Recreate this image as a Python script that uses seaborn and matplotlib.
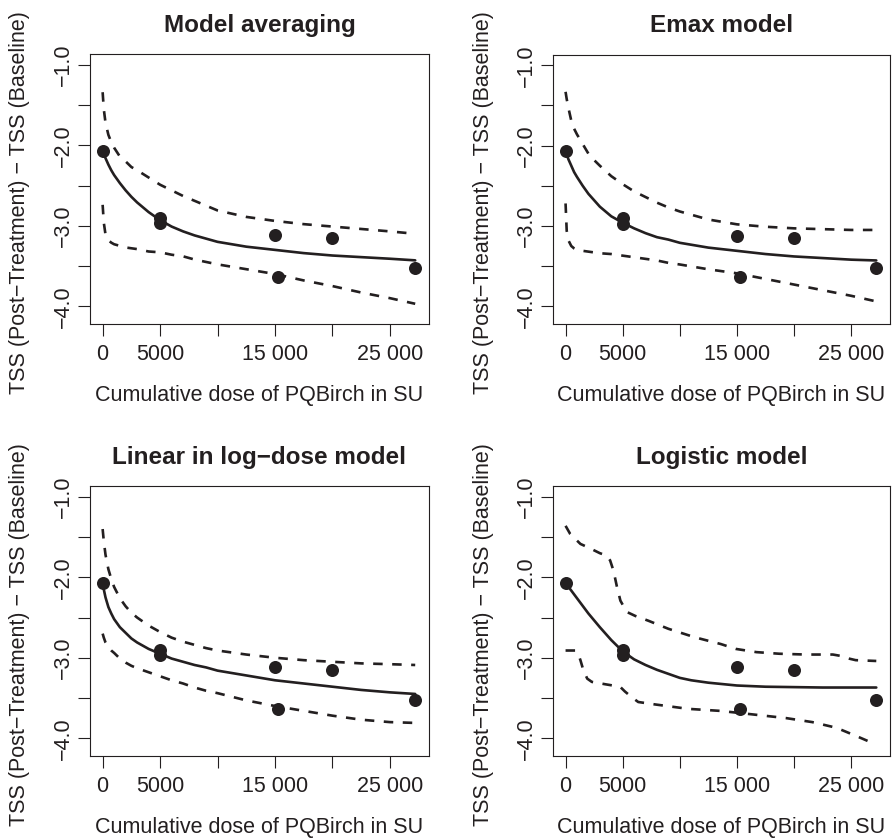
import matplotlib
matplotlib.use("Agg")
import matplotlib.pyplot as plt
import seaborn as sns

# ---------------- data ----------------
DOSE_OBS = [0, 5000, 5000, 15000, 15300, 20000, 27200]
RESP_OBS = [-2.07, -2.90, -2.97, -3.12, -3.64, -3.15, -3.52]

GRID = [0, 100, 250, 500, 750, 1000, 1500, 2000, 2500, 3000, 4000, 5000, 6000,
        7000, 8000, 9000, 10000, 12500, 15000, 17500, 20000, 22500, 25000, 27200]

# Model averaging
MA_FIT = [-2.07, -2.11, -2.16, -2.24, -2.31, -2.37, -2.47, -2.56, -2.64, -2.71, -2.83, -2.93,
          -3.01, -3.07, -3.12, -3.16, -3.20, -3.26, -3.30, -3.34, -3.37, -3.39, -3.41, -3.43]
MA_UPPER = [-1.34, -1.55, -1.72, -1.87, -1.96, -2.03, -2.14, -2.20, -2.27, -2.31, -2.40, -2.49,
            -2.56, -2.63, -2.69, -2.75, -2.81, -2.89, -2.94, -2.98, -3.01, -3.04, -3.07, -3.10]
MA_LOWER = [-2.74, -2.96, -3.11, -3.18, -3.21, -3.23, -3.25, -3.27, -3.28, -3.29, -3.32, -3.33,
            -3.36, -3.38, -3.42, -3.45, -3.48, -3.54, -3.60, -3.68, -3.75, -3.83, -3.90, -3.97]

# Emax model
EMAX_FIT = [-2.07, -2.11, -2.17, -2.25, -2.33, -2.39, -2.50, -2.60, -2.68, -2.76, -2.88, -2.96,
            -3.03, -3.09, -3.14, -3.17, -3.21, -3.27, -3.31, -3.35, -3.38, -3.40, -3.42, -3.43]
EMAX_UPPER = [-1.33, -1.42, -1.53, -1.69, -1.79, -1.86, -1.98, -2.10, -2.18, -2.25, -2.38, -2.48,
              -2.57, -2.64, -2.71, -2.77, -2.82, -2.92, -2.98, -3.01, -3.03, -3.04, -3.05, -3.05]
EMAX_LOWER = [-2.72, -3.06, -3.18, -3.25, -3.28, -3.30, -3.31, -3.32, -3.33, -3.34, -3.35, -3.37,
              -3.39, -3.41, -3.43, -3.46, -3.48, -3.54, -3.59, -3.66, -3.73, -3.80, -3.87, -3.94]

# Linear in log-dose model
LOG_FIT = [-2.06, -2.15, -2.25, -2.37, -2.45, -2.52, -2.62, -2.69, -2.76, -2.81, -2.89, -2.95,
           -3.01, -3.05, -3.09, -3.12, -3.16, -3.22, -3.28, -3.32, -3.36, -3.40, -3.43, -3.45]
LOG_UPPER = [-1.40, -1.55, -1.72, -1.90, -2.02, -2.12, -2.26, -2.36, -2.44, -2.50, -2.60, -2.68,
             -2.75, -2.80, -2.84, -2.88, -2.91, -2.96, -3.00, -3.03, -3.05, -3.07, -3.08, -3.09]
LOG_LOWER = [-2.70, -2.75, -2.81, -2.87, -2.91, -2.94, -3.01, -3.06, -3.10, -3.13, -3.18, -3.23,
             -3.28, -3.32, -3.37, -3.41, -3.44, -3.53, -3.60, -3.66, -3.72, -3.77, -3.80, -3.81]

# Logistic model
LGT_FIT_DOSE = [0, 1000, 2000, 3000, 4000, 5000, 6000, 7000, 8000, 9000, 10000, 11000,
                12500, 15000, 17500, 20000, 22500, 25000, 27200]
LGT_FIT = [-2.07, -2.26, -2.45, -2.62, -2.78, -2.92, -3.02, -3.09, -3.15, -3.20, -3.25, -3.28,
           -3.31, -3.345, -3.36, -3.365, -3.37, -3.37, -3.37]
LGT_UPPER_DOSE = [0, 400, 1300, 2000, 3000, 3600, 3900, 4200, 4500, 4800, 5350, 6100, 7250,
                  9000, 11300, 13600, 14900, 16700, 18700, 21000, 23400, 24000, 24800, 25400, 27200]
LGT_UPPER = [-1.36, -1.46, -1.585, -1.63, -1.70, -1.73, -1.79, -1.92, -2.12, -2.29, -2.43, -2.48,
             -2.54, -2.64, -2.745, -2.83, -2.89, -2.93, -2.95, -2.96, -2.96, -2.975, -3.01, -3.03, -3.04]
LGT_LOWER_DOSE = [0, 850, 1100, 1300, 1570, 1900, 2300, 3500, 4770, 5200, 5790, 6360, 7820,
                  10720, 13500, 16100, 19300, 21600, 23700, 25400, 27200]
LGT_LOWER = [-2.91, -2.91, -2.95, -3.03, -3.16, -3.26, -3.30, -3.33, -3.36, -3.42, -3.49, -3.55,
             -3.58, -3.635, -3.66, -3.70, -3.75, -3.80, -3.87, -3.97, -4.08]

TITLES = ["Model averaging", "Emax model", "Linear in log\u2212dose model", "Logistic model"]
XLABEL = "Cumulative dose of PQBirch in SU"
YLABEL = "TSS (Post\u2212Treatment) \u2212 TSS (Baseline)"
XTICKS = [0, 5000, 10000, 15000, 20000, 25000]
XTICKLABELS = ["0", "5000", "", "15 000", "", "25 000"]
YTICKS = [-1.0, -1.5, -2.0, -2.5, -3.0, -3.5, -4.0]
YTICKLABELS = ["\u22121.0", "", "\u22122.0", "", "\u22123.0", "", "\u22124.0"]

PANELS = [
    (GRID, MA_FIT, GRID, MA_UPPER, GRID, MA_LOWER),
    (GRID, EMAX_FIT, GRID, EMAX_UPPER, GRID, EMAX_LOWER),
    (GRID, LOG_FIT, GRID, LOG_UPPER, GRID, LOG_LOWER),
    (LGT_FIT_DOSE, LGT_FIT, LGT_UPPER_DOSE, LGT_UPPER, LGT_LOWER_DOSE, LGT_LOWER),
]

# ---------------- style ----------------
sns.set_style("white")
plt.rcParams["font.family"] = ["Liberation Sans", "DejaVu Sans"]
INK = "#231f20"
plt.rcParams["text.color"] = INK
plt.rcParams["axes.edgecolor"] = INK
plt.rcParams["xtick.color"] = INK
plt.rcParams["ytick.color"] = INK

W, H = 893, 839
fig = plt.figure(figsize=(W / 100, H / 100), dpi=100)

# axes rectangles in pixels: (left, top, right, bottom)
RECTS = [(90, 54, 429, 323.5), (553, 54.5, 890, 323.5),
         (90, 486, 429, 755.5), (553, 486, 890, 755.5)]

for i, (rect, title, panel) in enumerate(zip(RECTS, TITLES, PANELS)):
    l, t, r, b = rect
    ax = fig.add_axes([l / W, (H - b) / H, (r - l) / W, (b - t) / H])
    fx, fy, ux, uy, lx, ly = panel
    sns.lineplot(x=fx, y=fy, ax=ax, color=INK, linewidth=1.9, estimator=None, sort=False)
    for xx, yy in ((ux, uy), (lx, ly)):
        sns.lineplot(x=xx, y=yy, ax=ax, color=INK, linewidth=1.9, estimator=None,
                     sort=False, linestyle=(0, (3.6, 3.6)))
    sns.scatterplot(x=DOSE_OBS, y=RESP_OBS, ax=ax, s=88, color=INK, linewidth=0, zorder=4)

    ax.set_xlim(-1100, 28400)
    ax.set_ylim(-4.215, -0.865)
    ax.set_xticks(XTICKS)
    ax.set_xticklabels(XTICKLABELS)
    ax.set_yticks(YTICKS)
    ax.set_yticklabels(YTICKLABELS, rotation=90, va="center")
    ax.tick_params(axis="both", which="major", direction="out", length=8.6, width=0.8,
                   labelsize=15.5, bottom=True, left=True)
    ax.tick_params(axis="x", pad=6)
    ax.tick_params(axis="y", pad=3)
    ax.set_xlabel("")
    ax.set_ylabel("")
    for sp in ax.spines.values():
        sp.set_visible(True)
        sp.set_linewidth(0.8)
        sp.set_color(INK)
    hpx = b - t
    wpx = r - l
    ax.text(0.5, 1 + 22 / hpx, title, transform=ax.transAxes, ha="center", va="baseline",
            fontsize=17.5, fontweight="bold")
    ax.text(0.5, -(401 - 323.5) / hpx, XLABEL, transform=ax.transAxes, ha="center",
            va="baseline", fontsize=15.5)
    ax.text(-70 / wpx, (323.5 - 202.5) / hpx, YLABEL, transform=ax.transAxes, ha="center",
            va="center", rotation=90, fontsize=15.5)

fig.savefig("out.png", dpi=100, facecolor="white")
